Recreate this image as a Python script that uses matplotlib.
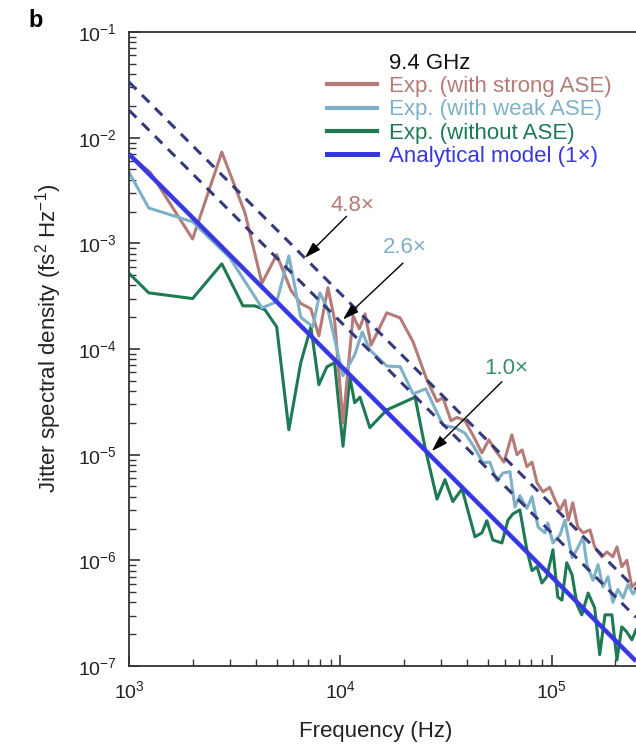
import matplotlib
matplotlib.use("Agg")
import matplotlib.pyplot as plt
from matplotlib.lines import Line2D
from matplotlib.ticker import FixedLocator, NullFormatter
import numpy as np

plt.rcParams['font.family'] = ['Liberation Sans', 'DejaVu Sans']
plt.rcParams['mathtext.fontset'] = 'custom'
plt.rcParams['mathtext.rm'] = 'Liberation Sans'
plt.rcParams['mathtext.it'] = 'Liberation Sans:italic'
plt.rcParams['mathtext.bf'] = 'Liberation Sans:bold'

# ---- measured jitter spectra (Hz, fs^2/Hz) ----
freq_strong = [1.0e3, 1.26e3, 2.0e3, 2.75e3, 3.54e3, 4.26e3, 5.0e3, 5.84e3, 6.5e3, 7.26e3,
               7.92e3, 8.74e3, 9.4e3, 1.03e4, 1.15e4, 1.23e4, 1.31e4, 1.40e4, 1.66e4, 1.92e4,
               2.21e4, 2.57e4, 2.87e4, 3.06e4, 3.34e4, 3.57e4, 3.89e4, 4.29e4, 4.68e4, 5.05e4,
               5.40e4, 5.95e4, 6.49e4, 6.86e4, 7.25e4, 7.64e4, 8.08e4, 8.54e4, 9.1e4, 9.8e4,
               1.04e5, 1.096e5, 1.157e5, 1.20e5, 1.26e5, 1.33e5, 1.41e5, 1.52e5, 1.60e5, 1.73e5,
               1.83e5, 1.95e5, 2.04e5, 2.15e5, 2.27e5, 2.40e5, 2.51e5]
psd_strong = [6.9e-3, 4.7e-3, 1.1e-3, 7.3e-3, 1.94e-3, 4.2e-4, 7.8e-4, 3.6e-4, 2.7e-4, 2.4e-4,
              1.33e-4, 3.8e-4, 1.88e-4, 2.0e-5, 2.06e-4, 1.55e-4, 2.15e-4, 1.09e-4, 2.2e-4, 1.97e-4,
              1.17e-4, 5.1e-5, 3.2e-5, 3.45e-5, 2.1e-5, 2.25e-5, 2.1e-5, 1.47e-5, 1.04e-5, 1.38e-5,
              1.11e-5, 8.5e-6, 1.54e-5, 1.0e-5, 1.11e-5, 7.7e-6, 8.5e-6, 5.4e-6, 4.45e-6, 4.9e-6,
              3.7e-6, 3.0e-6, 3.7e-6, 2.4e-6, 3.5e-6, 2.07e-6, 1.82e-6, 1.94e-6, 1.34e-6, 1.08e-6,
              1.2e-6, 1.08e-6, 1.34e-6, 8.7e-7, 1.0e-6, 5.6e-7, 6.1e-7]

freq_weak = [1.0e3, 1.24e3, 2.0e3, 3.0e3, 4.26e3, 5.0e3, 5.71e3, 6.5e3, 7.42e3, 8.0e3,
             8.74e3, 1.03e4, 1.17e4, 1.27e4, 1.38e4, 1.66e4, 1.92e4, 2.21e4, 2.54e4, 3.06e4,
             3.49e4, 3.89e4, 4.29e4, 4.73e4, 5.1e4, 5.51e4, 5.89e4, 6.35e4, 6.71e4, 7.08e4,
             7.64e4, 8.08e4, 8.63e4, 9.3e4, 9.6e4, 1.015e5, 1.096e5, 1.157e5, 1.25e5, 1.33e5,
             1.41e5, 1.47e5, 1.57e5, 1.66e5, 1.75e5, 1.85e5, 1.95e5, 2.06e5, 2.18e5, 2.30e5,
             2.43e5, 2.51e5]
psd_weak = [4.7e-3, 2.16e-3, 1.6e-3, 7.3e-4, 2.45e-4, 2.8e-4, 7.6e-4, 2.0e-4, 1.62e-4, 3.4e-4,
            2.35e-4, 5.6e-5, 8.8e-5, 1.45e-4, 9.8e-5, 6.9e-5, 6.8e-5, 3.76e-5, 4.2e-5, 1.9e-5,
            1.8e-5, 1.6e-5, 1.19e-5, 8.4e-6, 8.5e-6, 5.65e-6, 6.7e-6, 6.9e-6, 3.2e-6, 4.1e-6,
            3.1e-6, 4.0e-6, 2.07e-6, 1.82e-6, 2.26e-6, 1.46e-6, 1.74e-6, 2.4e-6, 1.06e-6, 1.31e-6,
            1.67e-6, 9.1e-7, 6.5e-7, 9.1e-7, 5.6e-7, 7.0e-7, 4.0e-7, 5.3e-7, 4.4e-7, 5.9e-7,
            4.8e-7, 5.3e-7]

freq_without = [1.0e3, 1.24e3, 2.0e3, 2.75e3, 3.46e3, 3.94e3, 4.40e3, 5.0e3, 5.71e3, 6.5e3,
                7.26e3, 7.92e3, 8.65e3, 9.4e3, 1.03e4, 1.11e4, 1.17e4, 1.24e4, 1.38e4, 1.66e4,
                2.26e4, 2.52e4, 2.87e4, 3.13e4, 3.41e4, 3.77e4, 4.34e4, 4.68e4, 4.94e4, 5.27e4,
                5.82e4, 6.22e4, 6.56e4, 7.08e4, 7.64e4, 8.08e4, 8.54e4, 9.0e4, 9.5e4, 1.015e5,
                1.07e5, 1.12e5, 1.18e5, 1.25e5, 1.32e5, 1.39e5, 1.49e5, 1.60e5, 1.69e5, 1.79e5,
                1.93e5, 2.04e5, 2.15e5, 2.27e5, 2.40e5, 2.51e5]
psd_without = [5.2e-4, 3.4e-4, 3.0e-4, 6.4e-4, 2.56e-4, 2.56e-4, 2.35e-4, 1.62e-4, 1.72e-5, 7.4e-5,
               1.62e-4, 4.6e-5, 6.8e-5, 7.4e-5, 1.2e-5, 5.4e-5, 3.1e-5, 3.5e-5, 1.8e-5, 2.65e-5,
               3.5e-5, 1.16e-5, 3.8e-6, 5.8e-6, 3.6e-6, 4.75e-6, 1.67e-6, 1.82e-6, 2.37e-6, 1.56e-6,
               1.46e-6, 2.4e-6, 2.75e-6, 3.0e-6, 1.26e-6, 8.0e-7, 8.7e-7, 6.1e-7, 7.0e-7, 1.26e-6,
               4.5e-7, 4.2e-7, 9.5e-7, 7.3e-7, 3.8e-7, 3.05e-7, 4.9e-7, 3.55e-7, 1.28e-7, 3.05e-7,
               3.05e-7, 1.14e-7, 2.35e-7, 2.1e-7, 1.77e-7, 2.2e-7]

# ---- analytical model: S(f) = A * (f / 1 kHz)^slope, scaled copies ----
model_amp_1khz = 7.0e-3
model_slope = -2.0
scale_factors = [2.6, 4.8]
scale_labels = ["2.6\u00d7", "4.8\u00d7", "1.0\u00d7"]

f_min, f_max = 1.0e3, 2.51e5
y_min, y_max = 1e-7, 1e-1
x_decades = [1e3, 1e4, 1e5]
y_decades = [1e-7, 1e-6, 1e-5, 1e-4, 1e-3, 1e-2, 1e-1]

c_strong = '#b57b78'
c_weak = '#7eb0c8'
c_without = '#1e7a52'
c_model = '#3838e0'
c_dash = '#353a7c'

fig = plt.figure(figsize=(6.36, 7.44), dpi=100)
ax = fig.add_axes([129 / 636, 78 / 744, 507 / 636, 634 / 744])

ax.plot(freq_without, psd_without, color=c_without, lw=2.2, zorder=2)
ax.plot(freq_weak, psd_weak, color=c_weak, lw=2.2, zorder=2.2)
ax.plot(freq_strong, psd_strong, color=c_strong, lw=2.2, zorder=2.1)

f_line = np.array([f_min, f_max])
model = model_amp_1khz * (f_line / 1e3) ** model_slope
for k in scale_factors:
    ax.plot(f_line, k * model, color=c_dash, lw=2.2, ls=(0, (3.4, 2.6)), zorder=3)
ax.plot(f_line, model, color=c_model, lw=3.2, zorder=4, solid_capstyle='butt')

ax.set_xscale('log')
ax.set_yscale('log')
ax.set_xlim(f_min, f_max)
ax.set_ylim(y_min, y_max)

# decade ticks with 2..9 minor ticks, restricted to the visible range
x_minor = [m * d for d in x_decades for m in range(2, 10) if m * d <= f_max]
y_minor = [m * d for d in y_decades[:-1] for m in range(2, 10)]
ax.xaxis.set_major_locator(FixedLocator(x_decades))
ax.xaxis.set_minor_locator(FixedLocator(x_minor))
ax.yaxis.set_major_locator(FixedLocator(y_decades))
ax.yaxis.set_minor_locator(FixedLocator(y_minor))
ax.xaxis.set_minor_formatter(NullFormatter())
ax.yaxis.set_minor_formatter(NullFormatter())

ax.tick_params(which='both', direction='in', top=False, right=False,
               color='#333333', labelcolor='#222222')
ax.tick_params(which='major', length=8, width=1.2, labelsize=14)
ax.tick_params(axis='y', which='major', pad=9)
ax.tick_params(axis='x', which='major', pad=10)
ax.tick_params(which='minor', length=5, width=1.0)

for side in ('left', 'bottom', 'top'):
    ax.spines[side].set_linewidth(1.3)
    ax.spines[side].set_color('#333333')
ax.spines['right'].set_visible(False)

ax.set_xlabel('Frequency (Hz)', fontsize=16, color='#222222')
ax.set_ylabel('Jitter spectral density (fs$^{2}$ Hz$^{-1}$)', fontsize=16, color='#222222')
ax.xaxis.set_label_coords(0.486, -0.086)
ax.yaxis.set_label_coords(-0.129, 0.517)

# factor annotations
arrow_kw = dict(arrowstyle='-|>,head_length=0.7,head_width=0.22', color='black',
                lw=1.0, mutation_scale=14, shrinkA=0, shrinkB=0)
ax.text(1.14e4, 2.3e-3, scale_labels[1], color=c_strong, fontsize=16, ha='center', va='center')
ax.annotate('', xy=(6.8e3, 7.3e-4), xytext=(1.07e4, 1.8e-3), arrowprops=arrow_kw)
ax.text(2.02e4, 9.2e-4, scale_labels[0], color=c_weak, fontsize=16, ha='center', va='center')
ax.annotate('', xy=(1.03e4, 1.9e-4), xytext=(1.98e4, 6.5e-4), arrowprops=arrow_kw)
ax.text(6.08e4, 6.6e-5, scale_labels[2], color='#3a8f6c', fontsize=16, ha='center', va='center')
ax.annotate('', xy=(2.71e4, 1.08e-5), xytext=(5.82e4, 4.9e-5), arrowprops=arrow_kw)

# legend
handles = [
    Line2D([], [], color='none'),
    Line2D([], [], color=c_strong, lw=3.0),
    Line2D([], [], color=c_weak, lw=3.0),
    Line2D([], [], color=c_without, lw=3.0),
    Line2D([], [], color=c_model, lw=3.6),
]
labels = ['9.4 GHz', 'Exp. (with strong ASE)', 'Exp. (with weak ASE)',
          'Exp. (without ASE)', 'Analytical model (1\u00d7)']
ax.legend(handles, labels, loc='upper left', bbox_to_anchor=(0.3905, 0.967),
          frameon=False, fontsize=16, labelspacing=0.1, handlelength=2.25,
          handletextpad=0.55, borderpad=0.0, borderaxespad=0.0,
          labelcolor=['#111111', c_strong, c_weak, c_without, c_model])

fig.text(28 / 636, 1 - 27 / 744, 'b', fontsize=17, fontweight='bold', ha='left', va='baseline')

fig.savefig('out.png', dpi=100)
